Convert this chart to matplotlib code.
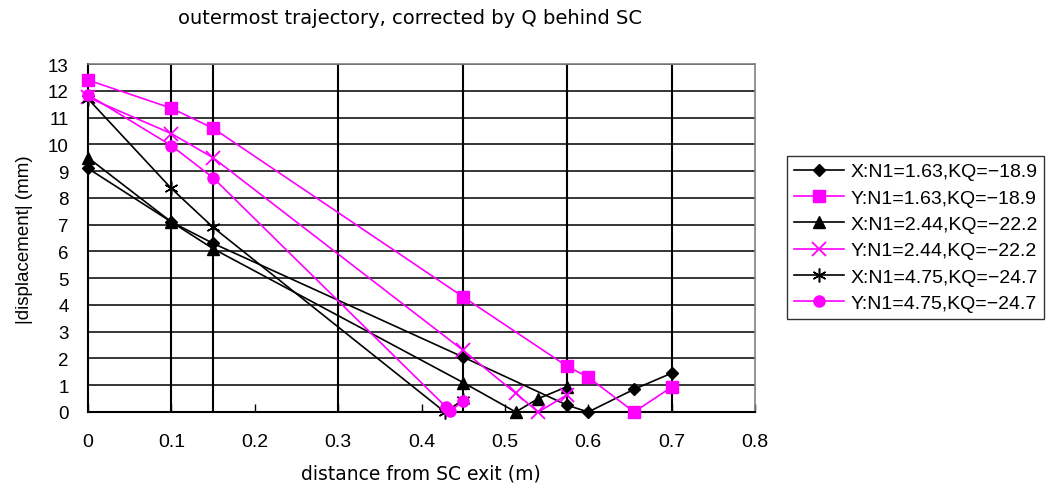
import matplotlib
matplotlib.use("Agg")
import matplotlib.pyplot as plt

# distance from SC exit (m) and |displacement| (mm) for each setting
x_163 = [0, 0.1, 0.15, 0.45, 0.575, 0.6, 0.655, 0.7]
X_163 = [9.1, 7.1, 6.3, 2.05, 0.25, 0.0, 0.85, 1.45]
Y_163 = [12.4, 11.35, 10.6, 4.3, 1.7, 1.3, 0.0, 0.93]

x_244 = [0, 0.1, 0.15, 0.45, 0.513, 0.54, 0.575]
X_244 = [9.5, 7.1, 6.1, 1.1, 0.0, 0.5, 0.95]
Y_244 = [11.75, 10.4, 9.5, 2.3, 0.7, 0.0, 0.65]

xX_475 = [0, 0.1, 0.15, 0.428, 0.45]
X_475 = [11.7, 8.35, 6.9, 0.0, 0.45]
xY_475 = [0, 0.1, 0.15, 0.429, 0.434, 0.45]
Y_475 = [11.85, 9.95, 8.75, 0.2, 0.03, 0.4]

labels = ["X:N1=1.63,KQ=\u221218.9", "Y:N1=1.63,KQ=\u221218.9",
          "X:N1=2.44,KQ=\u221222.2", "Y:N1=2.44,KQ=\u221222.2",
          "X:N1=4.75,KQ=\u221224.7", "Y:N1=4.75,KQ=\u221224.7"]

# positions of the measurement planes drawn as vertical guides
planes = [0.1, 0.15, 0.3, 0.45, 0.575, 0.7]

x_ticks = [0, 0.1, 0.2, 0.3, 0.4, 0.5, 0.6, 0.7, 0.8]
x_ticklabels = ["0", "0.1", "0.2", "0.3", "0.4", "0.5", "0.6", "0.7", "0.8"]
y_ticks = list(range(0, 14))

dv = ["DejaVu Sans"]
sans = ["Liberation Sans", "DejaVu Sans"]

fig = plt.figure(figsize=(10.55, 4.85), dpi=100)
ax = fig.add_axes([88 / 1055, 1 - 413 / 485, (755 - 88) / 1055, (413 - 65) / 485])

for y in y_ticks:
    ax.axhline(y, color="black", lw=1.1, zorder=1)
for xv in planes:
    ax.axvline(xv, color="black", lw=1.5, zorder=1)

black, mag = "black", "#FF00FF"
series = [
    (x_163, X_163, black, dict(marker="D", markersize=6)),
    (x_163, Y_163, mag, dict(marker="s", markersize=8)),
    (x_244, X_244, black, dict(marker="^", markersize=8)),
    (x_244, Y_244, mag, dict(marker="x", markersize=10, markeredgewidth=1.3)),
    (xX_475, X_475, black, dict(marker=(6, 2, 0), markersize=10, markeredgewidth=1.1)),
    (xY_475, Y_475, mag, dict(marker="o", markersize=8)),
]
handles = []
for (xs, ys, col, mk), lab in zip(series, labels):
    h, = ax.plot(xs, ys, color=col, lw=1.2, markerfacecolor=col,
                 markeredgecolor=col, clip_on=False, zorder=3, label=lab, **mk)
    handles.append(h)

ax.set_xlim(0, 0.8)
ax.set_ylim(0, 13)
ax.set_xticks(x_ticks)
ax.set_xticklabels(x_ticklabels, fontfamily=sans, fontsize=14)
ax.set_yticks(y_ticks)
ax.set_yticklabels([str(v) for v in y_ticks], fontfamily=sans, fontsize=13.5)
ax.tick_params(axis="x", direction="in", length=6, width=1, pad=15)
ax.tick_params(axis="y", direction="in", length=0, pad=14)

for s in ["left", "bottom"]:
    ax.spines[s].set_color("black")
    ax.spines[s].set_linewidth(1.5)
for s in ["top", "right"]:
    ax.spines[s].set_color("#808080")
    ax.spines[s].set_linewidth(1.2)

fig.text(410 / 1055, 1 - 19 / 485, "outermost trajectory, corrected by Q behind SC",
         ha="center", va="center", fontsize=14, fontfamily=dv)
fig.text(421 / 1055, 1 - 474 / 485, "distance from SC exit (m)",
         ha="center", va="center", fontsize=13.5, fontfamily=dv)
fig.text(25 / 1055, 1 - 240 / 485, "|displacement| (mm)", rotation=90,
         ha="center", va="center", fontsize=13.5, fontfamily=sans)

leg = fig.legend(handles=handles, loc="upper left",
                 bbox_to_anchor=(787 / 1055, 1 - 157 / 485),
                 prop={"family": sans, "size": 14}, frameon=True, fancybox=False,
                 handlelength=2.6, handletextpad=0.3, labelspacing=0.45,
                 borderpad=0.35, borderaxespad=0)
leg.get_frame().set_edgecolor("black")
leg.get_frame().set_linewidth(1.0)

fig.savefig("out.png", dpi=100)
